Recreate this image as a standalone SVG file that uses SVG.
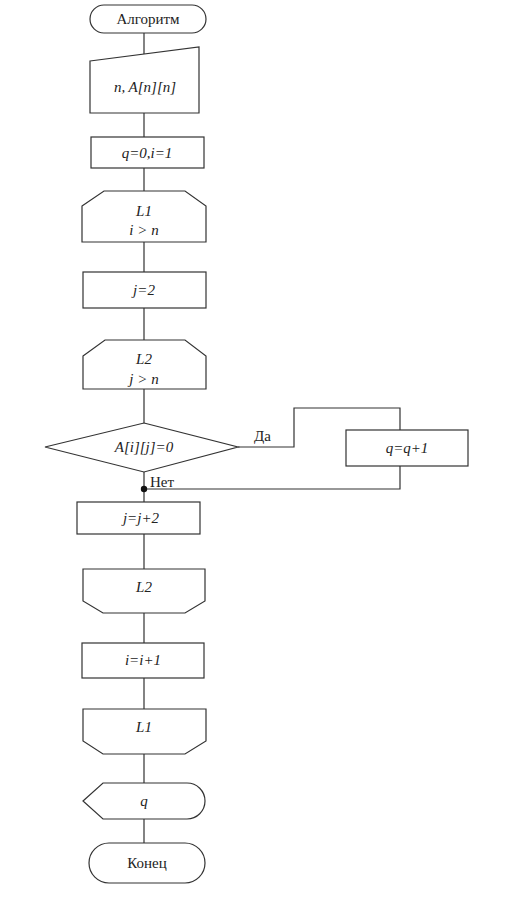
<svg xmlns="http://www.w3.org/2000/svg" width="519" height="911" viewBox="0 0 519 911">
<style>
.s{fill:#fff;stroke:#333;stroke-width:1.2}
.c{fill:none;stroke:#333;stroke-width:1.2}
text{font-family:"Liberation Serif","DejaVu Serif",serif;font-size:15px;fill:#222;text-anchor:middle}
.i{font-style:italic}
.l{text-anchor:start}
</style>
<rect width="519" height="911" fill="#fff"/>
<g id="connectors">
<path class="c" d="M144,33V54 M144,113V137 M144,168V191 M144,242V272 M144,308V340 M144,389V423 M144,472V502 M144,534V569 M144,613V643 M144,678V709 M144,754V783 M144,819V843"/>
<path class="c" d="M238,447H294V408H400V430 M400,466V489H144"/>
<circle cx="144" cy="489" r="3.2" fill="#111"/>
<text class="l" x="254" y="441">Да</text>
<text class="l" x="150" y="487">Нет</text>
</g>
<g id="start"><rect class="s" x="90" y="5" width="116" height="28" rx="14"/><text x="148" y="24">Алгоритм</text></g>
<g id="input"><polygon class="s" points="90,61 199,47 199,113 90,113"/><text class="i" x="145" y="92">n,  A[n][n]</text></g>
<g id="init"><rect class="s" x="91" y="137" width="113" height="31"/><text class="i" x="147" y="158">q=0,i=1</text></g>
<g id="loop1"><polygon class="s" points="82,206 104,191 185,191 206,206 206,242 82,242"/><text class="i" x="144" y="216">L1</text><text class="i" x="144" y="235">i &gt; n</text></g>
<g id="j2"><rect class="s" x="83" y="272" width="123" height="36"/><text class="i" x="144" y="295">j=2</text></g>
<g id="loop2"><polygon class="s" points="83,356 105,340 185,340 206,356 206,389 83,389"/><text class="i" x="144" y="364">L2</text><text class="i" x="144" y="384">j &gt; n</text></g>
<g id="cond"><polygon class="s" points="144,423 238,447 144,472 45,447"/><text class="i" x="144" y="452">A[i][j]=0</text></g>
<g id="inc"><rect class="s" x="346" y="430" width="122" height="36"/><text class="i" x="407" y="453">q=q+1</text></g>
<g id="jj2"><rect class="s" x="77" y="502" width="123" height="32"/><text class="i" x="141" y="523">j=j+2</text></g>
<g id="loop2end"><polygon class="s" points="83,569 205,569 205,601 185,613 103,613 83,601"/><text class="i" x="144" y="592">L2</text></g>
<g id="ii1"><rect class="s" x="82" y="643" width="122" height="35"/><text class="i" x="143" y="665">i=i+1</text></g>
<g id="loop1end"><polygon class="s" points="83,709 206,709 206,741 185,754 103,754 83,741"/><text class="i" x="144" y="732">L1</text></g>
<g id="output"><path class="s" d="M83,801L103,783H187A18,18 0 0 1 187,819H103Z"/><text class="i" x="144" y="806">q</text></g>
<g id="end"><rect class="s" x="89" y="843" width="116" height="40" rx="20"/><text x="147" y="868">Конец</text></g>
</svg>
